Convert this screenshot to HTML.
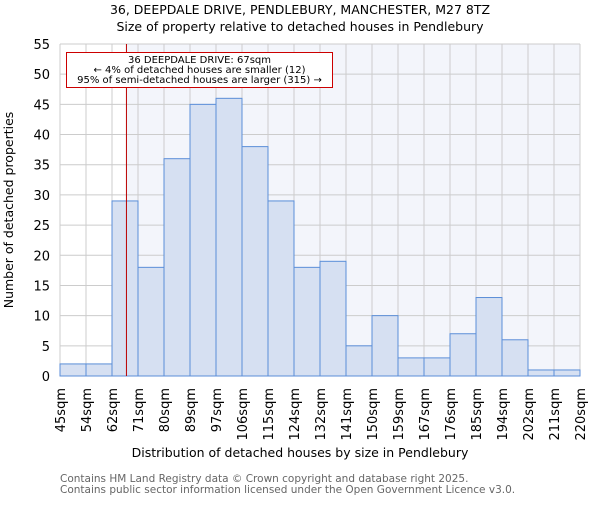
<!DOCTYPE html>
<html><head><meta charset="utf-8"><style>body{margin:0;background:#fff}svg{font-family:"DejaVu Sans","Liberation Sans",sans-serif}</style></head>
<body>
<svg id="c" width="600" height="500">
<text x="300" y="14" font-size="12.5" text-anchor="middle">36, DEEPDALE DRIVE, PENDLEBURY, MANCHESTER, M27 8TZ</text>
<text x="300" y="31" font-size="12.5" text-anchor="middle">Size of property relative to detached houses in Pendlebury</text>
<text x="300" y="457" font-size="12.5" text-anchor="middle">Distribution of detached houses by size in Pendlebury</text>
<text transform="translate(13,210) rotate(-90)" font-size="12.5" text-anchor="middle">Number of detached properties</text>
<text x="60" y="482" font-size="10.5" fill="#666">Contains HM Land Registry data © Crown copyright and database right 2025.</text>
<text x="60" y="493" font-size="10.5" fill="#666">Contains public sector information licensed under the Open Government Licence v3.0.</text>
<g id="plot"></g>
</svg>
<script>
const categories=["45sqm","54sqm","62sqm","71sqm","80sqm","89sqm","97sqm","106sqm","115sqm","124sqm","132sqm","141sqm","150sqm","159sqm","167sqm","176sqm","185sqm","194sqm","202sqm","211sqm","220sqm"];
const counts=[2,2,29,18,36,45,46,38,29,18,19,5,10,3,3,7,13,6,1,1];
const yTicks=[0,5,10,15,20,25,30,35,40,45,50,55];
const marker=67;
const binStarts=[45,54,62,71,80,89,97,106,115,124,132,141,150,159,167,176,185,194,202,211,220];
const X0=60,X1=580,Y0=376,Y1=44,yMax=55;
const bw=(X1-X0)/counts.length;
const x=i=>X0+i*bw;
const y=v=>Y0-(Y0-Y1)*v/yMax;
const ns="http://www.w3.org/2000/svg";
const g=document.getElementById('plot');
function mk(t,a){const e=document.createElementNS(ns,t);for(const k in a)e.setAttribute(k,a[k]);g.appendChild(e);return e;}
let mi=0;for(let i=0;i<binStarts.length-1;i++)if(marker>=binStarts[i]&&marker<binStarts[i+1])mi=i;
const mx=x(mi)+bw*(marker-binStarts[mi])/(binStarts[mi+1]-binStarts[mi]);
let bg=mk('rect',{x:mx,y:Y1,width:X1-mx,height:Y0-Y1,fill:'#f3f5fb'});


yTicks.forEach(v=>{
 let l=mk('line',{x1:X0,x2:X1,y1:y(v),y2:y(v),stroke:'#ccc'});
 
 
 let t=mk('text',{x:50,y:y(v)+5,'font-size':13,'text-anchor':'end'});t.textContent=v;
 
 
});
categories.forEach((c,i)=>{
 let l=mk('line',{x1:x(i),x2:x(i),y1:Y1,y2:Y0,stroke:'#ccc'});
 
 
 let t=mk('text',{transform:`translate(${x(i)+5},388) rotate(-90)`,'font-size':13,'text-anchor':'end'});t.textContent=c;
 
 
});
counts.forEach((v,i)=>{
 let r=mk('rect',{x:x(i),y:y(v),width:bw,height:Y0-y(v),fill:'#d6e0f2',stroke:'#5b8ed8','stroke-width':1});
 
 
});
let ml=mk('line',{x1:mx,x2:mx,y1:Y1,y2:Y0,stroke:'#b00','stroke-width':1});


let box=mk('rect',{x:66.5,y:52.5,width:266,height:35,fill:'#fff',stroke:'#c00','stroke-width':1});


["36 DEEPDALE DRIVE: 67sqm","← 4% of detached houses are smaller (12)","95% of semi-detached houses are larger (315) →"].forEach((s,k)=>{
 let t=mk('text',{x:199.5,y:63+k*10,'font-size':10,'text-anchor':'middle'});t.textContent=s;
 
 
});
</script>
</body></html>
